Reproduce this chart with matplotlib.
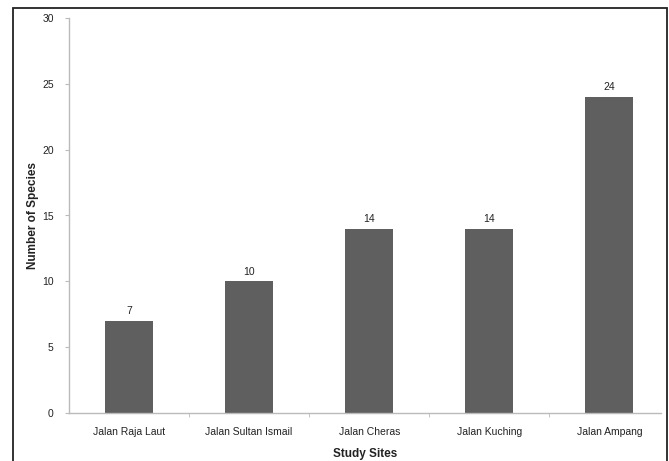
import matplotlib.pyplot as plt
from matplotlib.patches import Rectangle

sites = ['Jalan Raja Laut', 'Jalan Sultan Ismail', 'Jalan Cheras', 'Jalan Kuching', 'Jalan Ampang']
species = [7, 10, 14, 14, 24]
yticks = [0, 5, 10, 15, 20, 25, 30]

plt.rcParams['font.family'] = ['Liberation Sans', 'DejaVu Sans']

W, H = 669, 461
fig = plt.figure(figsize=(W / 100, H / 100), dpi=100)
ax = fig.add_axes([69 / W, 1 - 413 / H, 592 / W, 395 / H])

x = range(len(sites))
ax.bar(x, species, width=0.4, color='#5f5f5f', zorder=2)
for xi, v in zip(x, species):
    ax.text(xi, v + 0.35, str(v), ha='center', va='bottom', fontsize=7.5, color='#222222')

ax.set_xlim(-0.5, 4.43)
ax.set_ylim(0, 30)
ax.set_yticks(yticks)
ax.set_xticks(list(x))
ax.set_xticklabels(sites)
ax.set_xticks([0.5, 1.5, 2.5, 3.5], minor=True)
ax.tick_params(axis='x', which='major', length=0, pad=10, labelsize=7.5, labelcolor='#222222')
ax.tick_params(axis='x', which='minor', length=3, color='#bbbbbb')
ax.tick_params(axis='y', length=3, color='#bbbbbb', labelsize=7.5, labelcolor='#222222', pad=8)

for s in ['top', 'right']:
    ax.spines[s].set_visible(False)
for s in ['left', 'bottom']:
    ax.spines[s].set_color('#bbbbbb')
    ax.spines[s].set_linewidth(1)

ax.set_xlabel('Study Sites', fontsize=8.5, fontweight='bold', color='#222222', labelpad=8)
ax.set_ylabel('Number of Species', fontsize=8.5, fontweight='bold', color='#222222', labelpad=2)

# outer frame around the whole chart
fig.patches.append(Rectangle((13 / W, -0.05), 654 / W, 1.05 - 8 / H, transform=fig.transFigure,
                             fill=False, edgecolor='#222222', linewidth=1.3))

fig.savefig('out.png', dpi=100)
